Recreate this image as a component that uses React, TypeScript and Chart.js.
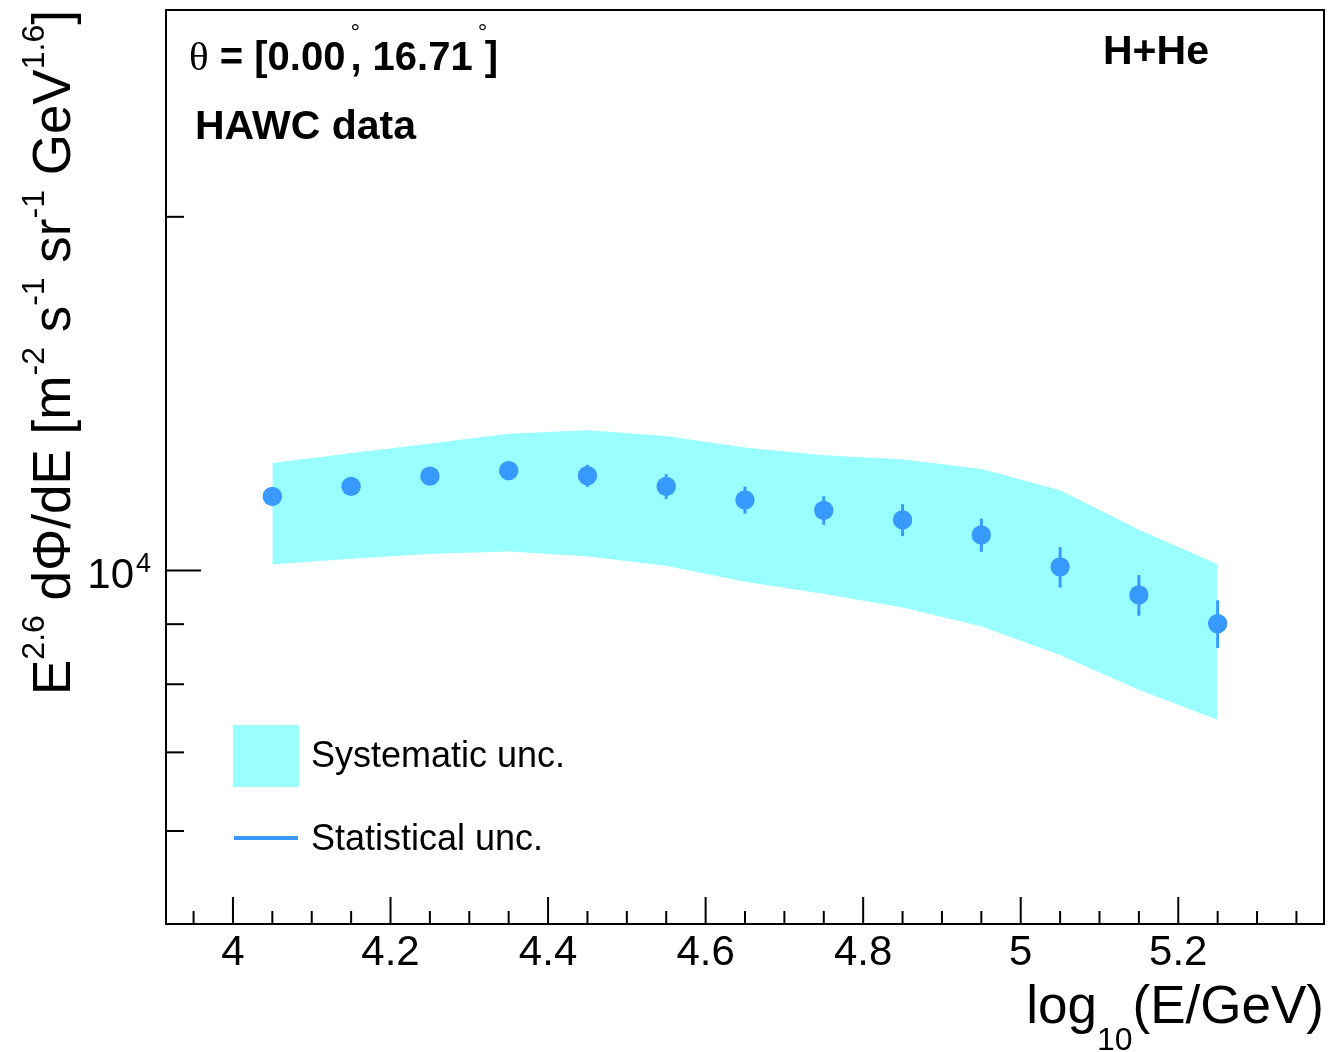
import { useEffect, useRef } from "react";
import { Chart, registerables } from "chart.js";

Chart.register(...registerables);

// Energy bins (log10 of E/GeV) and the E^2.6-weighted flux in each bin
const logEnergy = [4.05, 4.15, 4.25, 4.35, 4.45, 4.55, 4.65, 4.75, 4.85, 4.95, 5.05, 5.15, 5.25];
const fluxE26 = [11560, 11790, 12030, 12160, 12040, 11790, 11480, 11250, 11040, 10720, 10070, 9530, 9010];
const statErr = [150, 170, 190, 210, 260, 285, 305, 315, 345, 350, 400, 380, 420];
const sysHigh = [12330, 12570, 12810, 13060, 13150, 13000, 12710, 12520, 12420, 12190, 11690, 10820, 10110];
const sysLow = [10130, 10240, 10340, 10390, 10290, 10100, 9790, 9560, 9310, 8970, 8480, 7920, 7470];

// Axis ticks
const xMajorTicks = [4, 4.2, 4.4, 4.6, 4.8, 5, 5.2];
const xTickLabels = ["4", "4.2", "4.4", "4.6", "4.8", "5", "5.2"];
const xMinorTicks = [
  3.95, 4.05, 4.1, 4.15, 4.25, 4.3, 4.35, 4.45, 4.5, 4.55, 4.65, 4.7, 4.75,
  4.85, 4.9, 4.95, 5.05, 5.1, 5.15, 5.25, 5.3, 5.35,
];
const yMajorTicks = [10000];
const yMajorLabels = [["10", "4"]];
const yMinorTicks = [6000, 7000, 8000, 9000, 20000];

const X_RANGE = [3.915, 5.385];
const Y_RANGE = [5000, 30000];

const SYS_COLOR = "#99ffff";
const STAT_COLOR = "#3899ff";

const SANS = '"Liberation Sans", Arial, Helvetica, sans-serif';
const SERIF = '"Liberation Serif", "DejaVu Serif", serif';

type Run = {
  t: string;
  size: number;
  bold?: boolean;
  dy?: number;
  dx?: number;
  w?: number;
  family?: string;
};

function setFont(ctx: CanvasRenderingContext2D, r: Run) {
  ctx.font = `${r.bold ? "bold " : ""}${r.size}px ${r.family || SANS}`;
}

function runsWidth(ctx: CanvasRenderingContext2D, runs: Run[]) {
  let w = 0;
  for (const r of runs) {
    setFont(ctx, r);
    w += (r.dx || 0) + (r.w ?? ctx.measureText(r.t).width);
  }
  return w;
}

function drawRuns(ctx: CanvasRenderingContext2D, runs: Run[], x: number, y: number) {
  let cx = x;
  for (const r of runs) {
    setFont(ctx, r);
    cx += r.dx || 0;
    ctx.fillText(r.t, cx, y + (r.dy || 0));
    cx += r.w ?? ctx.measureText(r.t).width;
  }
}

const M = 53;
const S = 32;
const UP = -26;
const yTitleRuns: Run[] = [
  { t: "E", size: M },
  { t: "2.6", size: S, dy: UP },
  { t: " d", size: M },
  { t: "Φ", size: M },
  { t: "/dE [m", size: M },
  { t: "-2", size: S, dy: UP },
  { t: " s", size: M },
  { t: "-1", size: S, dy: UP },
  { t: " sr", size: M },
  { t: "-1", size: S, dy: UP },
  { t: " GeV", size: M },
  { t: "1.6", size: S, dy: UP },
  { t: "]", size: M },
];

const xTitleRuns: Run[] = [
  { t: "log", size: M },
  { t: "10", size: S, dy: 27 },
  { t: "(E/GeV)", size: M },
];

const B = 40;
const thetaRuns: Run[] = [
  { t: "θ", size: 41, family: SERIF },
  { t: " = [0.00", size: B, bold: true },
  { t: "°", size: 24, dy: -30, dx: 5, w: 0 },
  { t: ", 16.71", size: B, bold: true },
  { t: "°", size: 24, dy: -30, dx: 5, w: 7 },
  { t: "]", size: B, bold: true },
];

function line(ctx: CanvasRenderingContext2D, x1: number, y1: number, x2: number, y2: number) {
  ctx.beginPath();
  ctx.moveTo(x1, y1);
  ctx.lineTo(x2, y2);
  ctx.stroke();
}

const statBarsPlugin = {
  id: "statBars",
  afterDatasetsDraw(chart: any) {
    const { ctx, scales } = chart;
    const xs = scales.x;
    const ys = scales.y;
    ctx.save();
    ctx.strokeStyle = STAT_COLOR;
    ctx.lineWidth = 3;
    logEnergy.forEach((e, i) => {
      const px = xs.getPixelForValue(e);
      line(
        ctx,
        px,
        ys.getPixelForValue(fluxE26[i] + statErr[i]),
        px,
        ys.getPixelForValue(fluxE26[i] - statErr[i])
      );
    });
    ctx.restore();
  },
};

const framePlugin = {
  id: "rootFrame",
  afterDraw(chart: any) {
    const { ctx, chartArea: a, scales } = chart;
    const xs = scales.x;
    const ys = scales.y;
    ctx.save();
    ctx.strokeStyle = "#000";
    ctx.fillStyle = "#000";
    ctx.lineWidth = 2;
    ctx.strokeRect(a.left, a.top, a.right - a.left, a.bottom - a.top);

    // x-axis ticks and labels
    xMajorTicks.forEach((v) => {
      const px = xs.getPixelForValue(v);
      line(ctx, px, a.bottom, px, a.bottom - 27);
    });
    xMinorTicks.forEach((v) => {
      const px = xs.getPixelForValue(v);
      line(ctx, px, a.bottom, px, a.bottom - 13);
    });
    ctx.textAlign = "center";
    ctx.textBaseline = "alphabetic";
    ctx.font = `42px ${SANS}`;
    xMajorTicks.forEach((v, i) => {
      ctx.fillText(xTickLabels[i], xs.getPixelForValue(v), a.bottom + 41);
    });

    // y-axis ticks and labels
    yMajorTicks.forEach((v) => {
      const py = ys.getPixelForValue(v);
      line(ctx, a.left, py, a.left + 35, py);
    });
    yMinorTicks.forEach((v) => {
      const py = ys.getPixelForValue(v);
      line(ctx, a.left, py, a.left + 18, py);
    });
    ctx.textAlign = "left";
    yMajorTicks.forEach((v, i) => {
      const py = ys.getPixelForValue(v);
      const runs: Run[] = [
        { t: yMajorLabels[i][0], size: 42 },
        { t: yMajorLabels[i][1], size: 27, dy: -16, dx: 2 },
      ];
      const w = runsWidth(ctx, runs);
      drawRuns(ctx, runs, a.left - 15 - w, py + 18);
    });

    // axis titles
    const xw = runsWidth(ctx, xTitleRuns);
    drawRuns(ctx, xTitleRuns, a.right - xw, a.bottom + 99);
    ctx.save();
    ctx.translate(70, 695);
    ctx.rotate(-Math.PI / 2);
    drawRuns(ctx, yTitleRuns, 0, 0);
    ctx.restore();

    // annotations
    drawRuns(ctx, thetaRuns, 189, 70);
    ctx.font = `bold 41px ${SANS}`;
    ctx.fillText("HAWC data", 195, 139);
    ctx.fillText("H+He", 1103, 64);

    // legend
    ctx.fillStyle = SYS_COLOR;
    ctx.fillRect(233, 725, 66, 62);
    ctx.strokeStyle = STAT_COLOR;
    ctx.lineWidth = 4;
    line(ctx, 234, 838, 298, 838);
    ctx.fillStyle = "#000";
    ctx.font = `36px ${SANS}`;
    ctx.fillText("Systematic unc.", 311, 767);
    ctx.fillText("Statistical unc.", 311, 850);
    ctx.restore();
  },
};

export default function App() {
  const canvasRef = useRef<HTMLCanvasElement | null>(null);

  useEffect(() => {
    const canvas = canvasRef.current;
    if (!canvas) return;
    const chart = new Chart(canvas, {
      type: "line",
      data: {
        datasets: [
          {
            label: "Systematic unc.",
            data: logEnergy.map((x, i) => ({ x, y: sysHigh[i] })),
            borderColor: SYS_COLOR,
            borderWidth: 1,
            backgroundColor: SYS_COLOR,
            pointRadius: 0,
            fill: "+1",
            order: 3,
          },
          {
            label: "sys-low",
            data: logEnergy.map((x, i) => ({ x, y: sysLow[i] })),
            borderColor: SYS_COLOR,
            borderWidth: 1,
            pointRadius: 0,
            fill: false,
            order: 2,
          },
          {
            label: "HAWC data",
            data: logEnergy.map((x, i) => ({ x, y: fluxE26[i] })),
            showLine: false,
            pointRadius: 9.7,
            pointBorderWidth: 0,
            pointBackgroundColor: STAT_COLOR,
            pointBorderColor: STAT_COLOR,
            order: 1,
          },
        ],
      },
      options: {
        responsive: false,
        animation: false,
        layout: { autoPadding: false, padding: { left: 166, top: 10, right: 7, bottom: 128 } },
        scales: {
          x: { type: "linear", min: X_RANGE[0], max: X_RANGE[1], display: false },
          y: { type: "logarithmic", min: Y_RANGE[0], max: Y_RANGE[1], display: false },
        },
        plugins: {
          legend: { display: false },
          tooltip: { enabled: false },
        },
      },
      plugins: [statBarsPlugin, framePlugin],
    });
    return () => chart.destroy();
  }, []);

  return (
    <div style={{ position: "absolute", left: 0, top: 0, width: 1331, height: 1052, background: "#fff" }}>
      <canvas ref={canvasRef} width={1331} height={1052} style={{ width: 1331, height: 1052 }} />
    </div>
  );
}
